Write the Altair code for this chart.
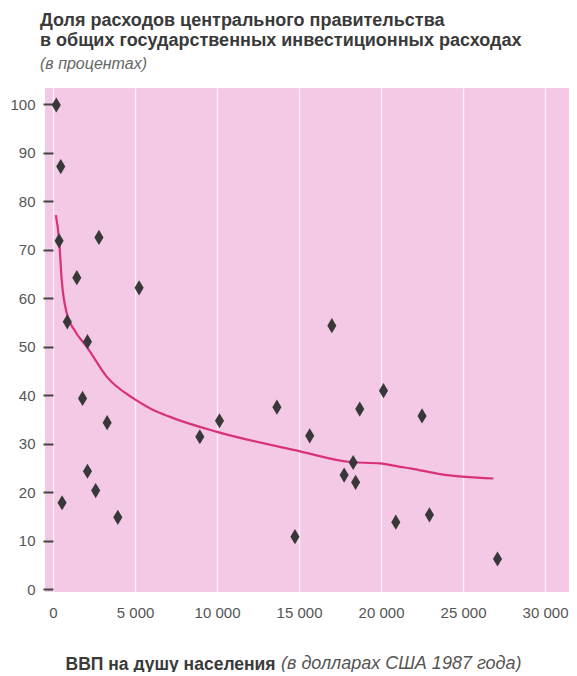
import altair as alt
import pandas as pd

# Scatter data: GDP per capita (1987 USD) and central-government share (%)
gdp = [200, 470, 370, 2800, 1450, 870, 2100, 5250, 1800, 3300, 2100, 2600, 550, 3950,
       8950, 10150, 13650, 14750, 15650, 17000, 17750, 18300, 18450, 18700, 20150,
       20900, 22500, 22950, 27100]
share = [99.8, 87.1, 71.8, 72.5, 64.2, 55.1, 51.0, 62.1, 39.3, 34.3, 24.3, 20.3, 17.8, 14.8,
         31.4, 34.7, 37.5, 10.8, 31.6, 54.3, 23.5, 26.1, 22.0, 37.1, 40.9,
         13.8, 35.7, 15.3, 6.2]

# Trend curve
curve_gdp = [170, 370, 530, 840, 1300, 2050, 3270, 4900, 5900, 7130, 10000,
             15060, 18110, 19940, 21160, 21770, 23600, 26850]
curve_share = [77.1, 72.0, 63.7, 56.8, 53.4, 50.0, 43.8, 39.3, 37.3, 35.5, 32.4,
               28.4, 26.2, 25.9, 25.2, 24.9, 23.7, 22.8]

x_ticks = [0, 5000, 10000, 15000, 20000, 25000, 30000]
y_ticks = [0, 10, 20, 30, 40, 50, 60, 70, 80, 90, 100]

title_lines = ["Доля расходов центрального правительства",
               "в общих государственных инвестиционных расходах"]
subtitle = "(в процентах)"
x_title_bold = "ВВП на душу населения"
x_title_italic = "(в долларах США 1987 года)"

FONT = "Liberation Sans"

pts = pd.DataFrame({"gdp": gdp, "share": share})
curve = pd.DataFrame({"gdp": curve_gdp, "share": curve_share})

xscale = alt.Scale(domain=[-490, 31460], nice=False, zero=False)
yscale = alt.Scale(domain=[-0.6, 103.3], nice=False, zero=False)

xaxis = alt.Axis(values=x_ticks, title=x_title_bold, grid=True, gridColor="#fdf3fa",
                 gridWidth=1.3, ticks=False, tickSize=0, domain=False,
                 labelExpr="replace(format(datum.value, ',d'), ',', ' ')",
                 labelFont=FONT, labelFontSize=15, labelColor="#555555", labelPadding=13,
                 titleFont=FONT, titleFontSize=17.5, titleFontWeight="bold", titleColor="#3a3a3a",
                 titleAlign="left", titleAnchor="start", titleX=20, titleY=77,
                 titleBaseline="alphabetic")
yaxis = alt.Axis(values=y_ticks, title=None, grid=False, domain=False, offset=-8,
                 tickSize=10, tickWidth=2, tickColor="#444444",
                 labelFont=FONT, labelFontSize=15, labelColor="#555555", labelPadding=8)

line = alt.Chart(curve).mark_line(color="#d8327c", strokeWidth=2.2, interpolate="monotone").encode(
    x=alt.X("gdp:Q", scale=xscale, axis=xaxis),
    y=alt.Y("share:Q", scale=yscale, axis=yaxis),
)

points = alt.Chart(pts).mark_point(
    shape="M0,-1L0.6,0L0,1L-0.6,0Z", size=230, filled=True, fill="#383838",
    opacity=1, strokeWidth=0
).encode(
    x=alt.X("gdp:Q", scale=xscale),
    y=alt.Y("share:Q", scale=yscale),
)

italic = alt.Chart(pd.DataFrame({"t": [x_title_italic]})).mark_text(
    font=FONT, fontSize=18, fontStyle="italic", color="#555555",
    align="left", baseline="alphabetic"
).encode(text="t:N", x=alt.value(236), y=alt.value(581))

chart = alt.layer(line, points, italic).properties(
    width=524, height=504,
    autosize=alt.AutoSizeParams(type="none"),
    padding={"left": 37, "top": 80, "right": 0, "bottom": 80},
    title=alt.TitleParams(
        text=title_lines, subtitle=subtitle, anchor="start", frame="group",
        font=FONT, fontSize=18, fontWeight="bold", color="#3a3a3a", lineHeight=20,
        subtitleFont=FONT, subtitleFontSize=16, subtitleFontStyle="italic",
        subtitleColor="#666666", subtitlePadding=6, dx=-5, offset=16,
    ),
).configure(background="white").configure_view(fill="#f3c9e6", stroke=None)

chart.save("out.html", embed_options={"renderer": "svg", "actions": False})
